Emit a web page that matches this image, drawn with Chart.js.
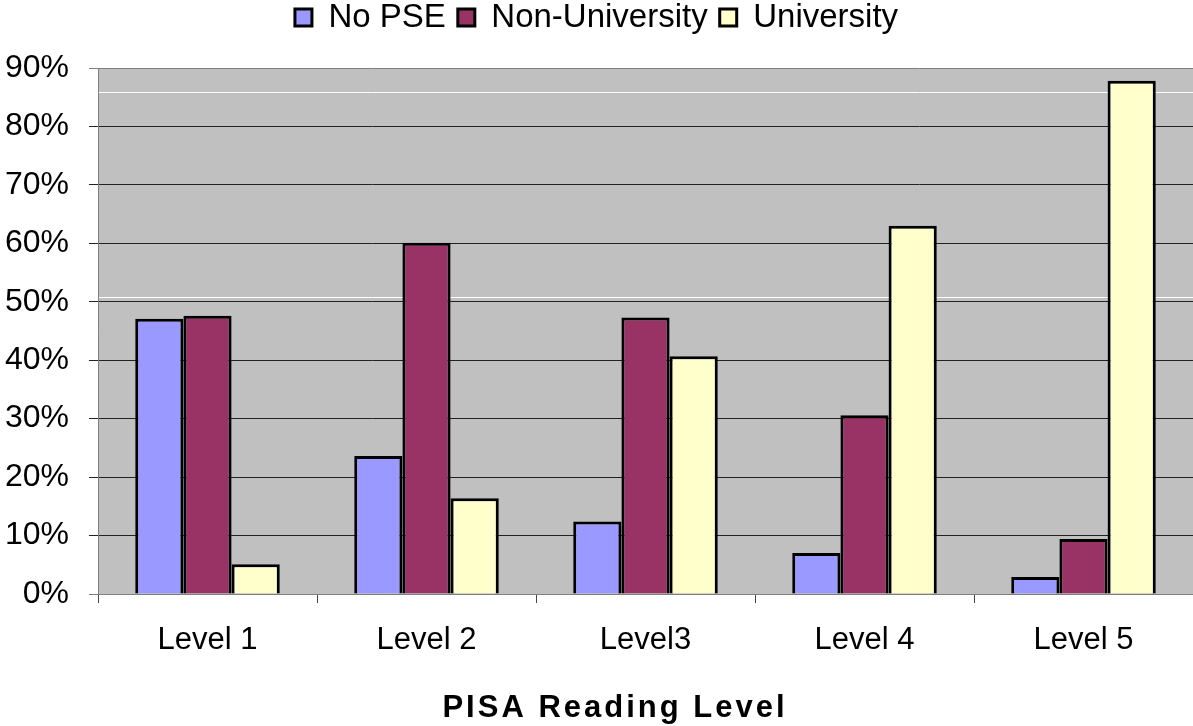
<!DOCTYPE html>
<html>
<head>
<meta charset="utf-8">
<script src="https://cdn.jsdelivr.net/npm/chart.js@4"></script>
<style>
  html, body { margin: 0; padding: 0; background: #fff; }
  #wrap { width: 1193px; height: 726px; }
</style>
</head>
<body>
<div id="wrap"><canvas id="pisaChart" width="1193" height="726"></canvas></div>
<script>
// ——— Data ———
const levels = ['Level 1', 'Level 2', 'Level3', 'Level 4', 'Level 5'];
const noPse = [47.1, 23.6, 12.4, 7.0, 2.9];
const nonUniversity = [47.6, 60.1, 47.3, 30.6, 9.4];
const university = [5.1, 16.4, 40.7, 63.0, 87.8];
const yTicks = [0, 10, 20, 30, 40, 50, 60, 70, 80, 90];
const axisTitle = 'PISA Reading Level';
// stray white rules visible in the original picture (in % units)
const whiteRules = [85.9, 50.8];

const FONT = '"Liberation Sans", Arial, sans-serif';

// ——— Legend: fixed box height so the plot starts lower ———
const legendSpace = {
  id: 'legendSpace',
  beforeInit(chart) {
    const origFit = chart.legend.fit;
    chart.legend.fit = function () {
      origFit.bind(chart.legend)();
      this.height = 79;
    };
  }
};

// ——— Plot background + stray lines + axis title ———
const plotDecor = {
  id: 'plotDecor',
  beforeDraw(chart) {
    const { ctx, chartArea: a } = chart;
    ctx.save();
    ctx.fillStyle = '#c0c0c0';
    ctx.fillRect(a.left, a.top, a.right - a.left, a.bottom - a.top);
    ctx.restore();
  },
  beforeDatasetsDraw(chart) {
    const { ctx, chartArea: a, scales } = chart;
    ctx.save();
    ctx.strokeStyle = '#ffffff';
    ctx.lineWidth = 1;
    whiteRules.forEach(v => {
      const y = Math.round(scales.y.getPixelForValue(v)) + 0.5;
      ctx.beginPath();
      ctx.moveTo(a.left + 1, y);
      ctx.lineTo(a.right, y);
      ctx.stroke();
    });
    ctx.restore();
  },
  afterDraw(chart) {
    const { ctx } = chart;
    ctx.save();
    ctx.font = 'bold 31px ' + FONT;
    ctx.letterSpacing = '3px';
    ctx.fillStyle = '#000';
    ctx.textAlign = 'center';
    ctx.textBaseline = 'middle';
    ctx.fillText(axisTitle, 615, 708);
    ctx.restore();
  }
};

const ctx = document.getElementById('pisaChart').getContext('2d');
new Chart(ctx, {
  type: 'bar',
  data: {
    labels: levels,
    datasets: [
      { label: 'No PSE', data: noPse, backgroundColor: '#9999ff' },
      { label: 'Non-University', data: nonUniversity, backgroundColor: '#993366' },
      { label: 'University', data: university, backgroundColor: '#ffffcc' }
    ].map(d => Object.assign(d, { borderColor: '#000', borderWidth: 3 }))
  },
  options: {
    responsive: false,
    animation: false,
    layout: { padding: { top: -11, right: 0, bottom: 0, left: 0 } },
    datasets: { bar: { categoryPercentage: 0.66, barPercentage: 1.0 } },
    plugins: {
      tooltip: { enabled: false },
      legend: {
        position: 'top',
        labels: {
          font: { family: FONT, size: 33 },
          color: '#000',
          boxWidth: 17,
          boxHeight: 17,
          padding: 12
        }
      }
    },
    scales: {
      x: {
        afterFit(s) { s.height = 132; },
        grid: {
          offset: true,
          drawOnChartArea: false,
          drawTicks: true,
          tickLength: 9,
          color: '#444'
        },
        border: { color: '#808080', width: 1 },
        ticks: { font: { family: FONT, size: 31 }, color: '#000', padding: 19 }
      },
      y: {
        min: 0,
        max: 90,
        afterFit(s) { s.width = 98; },
        afterBuildTicks(s) { s.ticks = yTicks.map(v => ({ value: v })); },
        grid: {
          tickLength: 9,
          color: c => (c.tick && (c.tick.value === 90 || c.tick.value === 0)) ? '#808080' : '#222',
          lineWidth: 1
        },
        border: { color: '#808080', width: 1 },
        ticks: {
          font: { family: FONT, size: 32 },
          color: '#000',
          padding: 20,
          callback: v => v + '%'
        }
      }
    }
  },
  plugins: [legendSpace, plotDecor]
});
</script>
</body>
</html>
